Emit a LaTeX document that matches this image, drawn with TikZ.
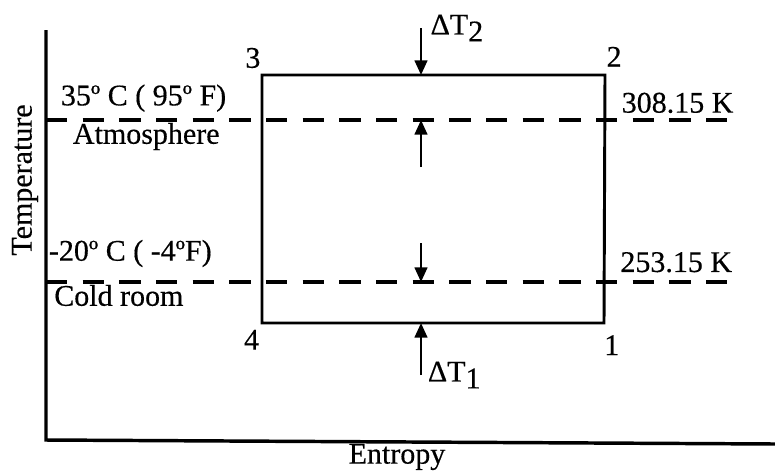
\documentclass[tikz,border=0pt]{standalone}
\usepackage{fontspec}
\setmainfont[FakeBold=0.4]{Liberation Serif}
\usetikzlibrary{arrows.meta,positioning}

\begin{document}
\begin{tikzpicture}[
    x=0.75pt,y=-0.75pt,
    txt/.style={font=\fontsize{22.5}{26}\selectfont,inner sep=0pt},
    axis/.style={line width=2.6pt},
    cycle/.style={line width=2.2pt},
    level/.style={line width=2.4pt,dash pattern=on 16pt off 11.5pt},
    arrow/.style={-{Triangle[length=11pt,width=9.5pt]},line width=1.8pt}
  ]
    \useasboundingbox (0,0) rectangle (775,472);
    \coordinate (ytop) at (46,30);
    \coordinate (origin) at (46,440);
    \coordinate (xend) at (775,444);
    \draw[axis] (ytop) -- (origin) -- (xend);
    \node[txt,rotate=90] (tlabel) at (25,180) {Temperature};
    \node[txt] (slabel) at (397,457) {Entropy};

    \coordinate (c1) at (604,323);
    \coordinate (c2) at (605,75);
    \coordinate (c3) at (262,75);
    \coordinate (c4) at (262,323);
    \draw[cycle] (c1) -- (c2) -- (c3) -- (c4) -- cycle;
    \node[txt,above left=5pt and 1pt of c3] (n3) {3};
    \node[txt,above right=6pt and 1pt of c2] (n2) {2};
    \node[txt,below left=5pt and 2pt of c4] (n4) {4};
    \node[txt,below right=9pt and 0pt of c1] (n1) {1};

    \coordinate (hotleft) at (46,120);
    \coordinate (hotright) at (735,120);
    \coordinate (coldleft) at (46,282);
    \coordinate (coldright) at (735,282);
    \draw[level] (hotleft) -- (hotright);
    \draw[level] (coldleft) -- (coldright);
    \node[txt,above right=6pt and 11pt of hotleft] (hotC) {35º C ( 95º F)};
    \node[txt,below right=2pt and 20pt of hotleft] (atm) {Atmosphere};
    \node[txt,above right=11pt and 2pt of coldleft] (coldC) {-20º C ( -4ºF)};
    \node[txt,below right=2pt and 6pt of coldleft] (room) {Cold room};
    \node[txt,above left=5pt and 1pt of hotright] (hotK) {308.15 K};
    \node[txt,above left=7pt and 2pt of coldright] (coldK) {253.15 K};

    \coordinate (dt2tail) at (421,28);
    \coordinate (hottail) at (421,167);
    \coordinate (coldtail) at (421,243);
    \coordinate (dt1tail) at (421,375);
    \draw[arrow] (dt2tail) -- (dt2tail |- c3);
    \draw[arrow] (hottail) -- (hottail |- hotleft);
    \draw[arrow] (coldtail) -- (coldtail |- coldleft);
    \draw[arrow] (dt1tail) -- (dt1tail |- c4);
    \node[txt,right=7pt of dt2tail] (dt2) {ΔT\raisebox{-0.5ex}{2}};
    \node[txt,right=5pt of dt1tail] (dt1) {ΔT\raisebox{-0.5ex}{1}};
\end{tikzpicture}
\end{document}
